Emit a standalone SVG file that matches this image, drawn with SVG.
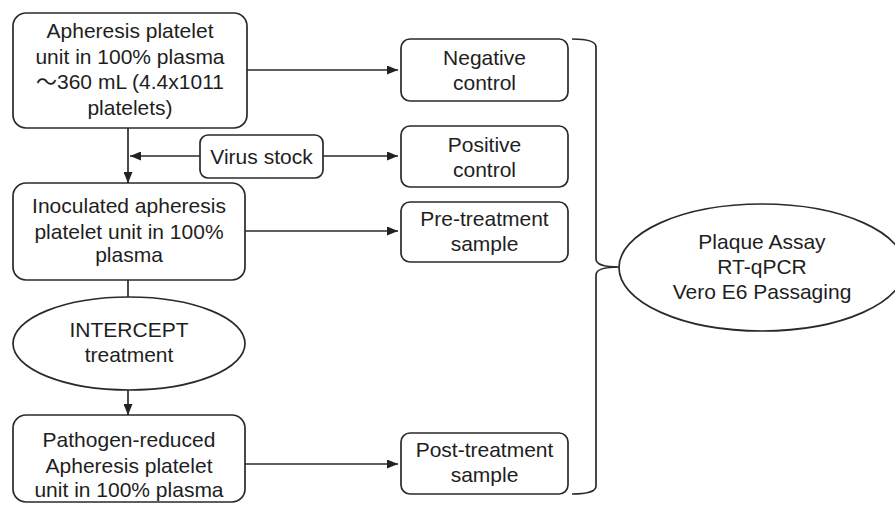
<svg xmlns="http://www.w3.org/2000/svg" width="895" height="507" viewBox="0 0 895 507">
<defs>
<marker id="arr" viewBox="0 0 11 9" refX="11" refY="4.5" markerWidth="11" markerHeight="9" markerUnits="userSpaceOnUse" orient="auto">
<path d="M0,0 L11,4.5 L0,9 Z" fill="#222"/>
</marker>
</defs>
<style>
.box{fill:#fff;stroke:#2a2a2a;stroke-width:1.7}
.ln{fill:none;stroke:#2a2a2a;stroke-width:1.7}
text{font-family:"Liberation Sans",Arial,"Noto Sans CJK SC",sans-serif;font-size:21px;fill:#1e1e1e;text-anchor:middle}
</style>
<rect width="895" height="507" fill="#fff"/>
<g id="connectors">
<path class="ln" d="M247,70 H398" marker-end="url(#arr)"/>
<path class="ln" d="M128,128 V183" marker-end="url(#arr)"/>
<path class="ln" d="M200,156 H130" marker-end="url(#arr)"/>
<path class="ln" d="M323,156 H398" marker-end="url(#arr)"/>
<path class="ln" d="M245,231 H398" marker-end="url(#arr)"/>
<path class="ln" d="M128,280 V297"/>
<path class="ln" d="M128,390 V415" marker-end="url(#arr)"/>
<path class="ln" d="M245,464 H398" marker-end="url(#arr)"/>
<path class="ln" d="M572,39 Q596,39 596,47 V259 Q596,267 619,267 Q596,267 596,275 V486 Q596,494 572,494"/>
</g>
<g id="apheresis">
<rect class="box" x="13" y="13" width="234" height="115" rx="13"/>
<text x="130" y="38">Apheresis platelet</text>
<text x="130" y="63.5">unit in 100% plasma</text>
<text x="130" y="89">～360 mL (4.4x1011</text>
<text x="130" y="114.5">platelets)</text>
</g>
<g id="virus-stock">
<rect class="box" x="200" y="135" width="123" height="43" rx="8"/>
<text x="261.5" y="164">Virus stock</text>
</g>
<g id="negative-control">
<rect class="box" x="401" y="39" width="167" height="62" rx="9"/>
<text x="484.5" y="65">Negative</text>
<text x="484.5" y="90">control</text>
</g>
<g id="positive-control">
<rect class="box" x="401" y="126" width="167" height="61" rx="9"/>
<text x="484.5" y="152">Positive</text>
<text x="484.5" y="177">control</text>
</g>
<g id="inoculated">
<rect class="box" x="13" y="183" width="232" height="97" rx="13"/>
<text x="129" y="213">Inoculated apheresis</text>
<text x="129" y="238.5">platelet unit in 100%</text>
<text x="129" y="262">plasma</text>
</g>
<g id="pre-treatment">
<rect class="box" x="401" y="202" width="167" height="60" rx="9"/>
<text x="484.5" y="226">Pre-treatment</text>
<text x="484.5" y="251">sample</text>
</g>
<g id="intercept">
<ellipse class="box" cx="129" cy="343.5" rx="116" ry="46.5"/>
<text x="129" y="337">INTERCEPT</text>
<text x="129" y="362">treatment</text>
</g>
<g id="pathogen-reduced">
<rect class="box" x="13" y="415" width="232" height="87" rx="13"/>
<text x="129" y="447">Pathogen-reduced</text>
<text x="129" y="472.5">Apheresis platelet</text>
<text x="129" y="497">unit in 100% plasma</text>
</g>
<g id="post-treatment">
<rect class="box" x="401" y="433" width="167" height="61" rx="9"/>
<text x="484.5" y="457">Post-treatment</text>
<text x="484.5" y="482">sample</text>
</g>
<g id="assays">
<ellipse class="box" cx="762" cy="267.5" rx="143" ry="63.5"/>
<text x="762" y="249">Plaque Assay</text>
<text x="762" y="274">RT-qPCR</text>
<text x="762" y="299">Vero E6 Passaging</text>
</g>
</svg>
